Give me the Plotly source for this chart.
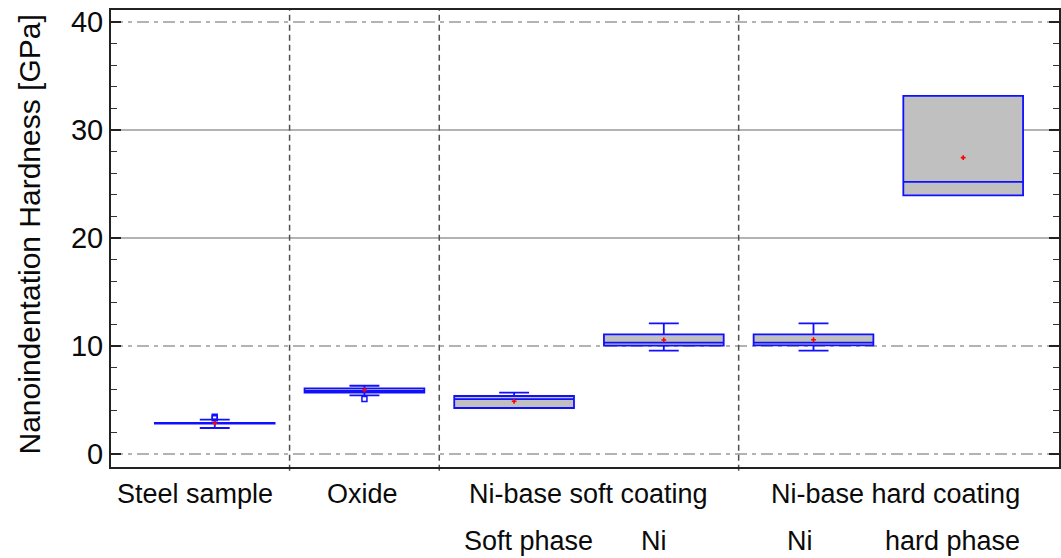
import plotly.graph_objects as go

# Nanoindentation hardness statistics (GPa) per measured phase
categories = ["Steel sample", "Oxide", "Soft phase", "Ni", "Ni", "hard phase"]
group_labels = ["Steel sample", "Oxide", "Ni-base soft coating", "Ni-base hard coating"]
sub_labels = ["Soft phase", "Ni", "Ni", "hard phase"]
y_title = "Nanoindentation Hardness [GPa]"

q1 = [2.82, 5.68, 4.26, 10.03, 10.06, 23.95]
median = [2.85, 5.85, 5.09, 10.31, 10.31, 25.19]
q3 = [2.88, 6.08, 5.37, 11.08, 11.08, 33.15]
lower_fence = [2.41, 5.43, 4.26, 9.57, 9.57, 23.95]
upper_fence = [3.18, 6.32, 5.68, 12.10, 12.10, 33.15]
mean = [2.85, 5.93, 4.88, 10.56, 10.58, 27.44]

outlier_cat = [0, 0, 1]
outlier_val = [3.32, 3.45, 5.09]

y_ticks = [0, 10, 20, 30, 40]
grid_dashed = [0, 10, 40]
grid_solid = [20, 30]

FONT = "Arial, Liberation Sans, sans-serif"
BLUE = "#1010ff"
TEXT = "#0a0a0a"
positions = list(range(len(categories)))

fig = go.Figure()

fig.add_trace(go.Box(
    x=positions, q1=q1, median=median, q3=q3,
    lowerfence=lower_fence, upperfence=upper_fence,
    width=0.8, whiskerwidth=0.25, boxpoints=False,
    fillcolor="#c0c0c0", line=dict(color=BLUE, width=1.8),
    showlegend=False, hoverinfo="skip",
))

fig.add_trace(go.Scatter(
    x=[positions[i] for i in outlier_cat], y=outlier_val, mode="markers",
    marker=dict(symbol="square-open", size=5, color=BLUE, line=dict(width=1.5, color=BLUE)),
    showlegend=False, hoverinfo="skip",
))

fig.add_trace(go.Scatter(
    x=positions, y=mean, mode="markers",
    marker=dict(symbol="cross", size=4, color="#ff0000"),
    showlegend=False, hoverinfo="skip",
))

shapes = []
for v in grid_dashed:
    shapes.append(dict(type="line", xref="paper", x0=0, x1=1, yref="y", y0=v, y1=v,
                       line=dict(color="#9a9a9a", width=1.5, dash="12px,5px,4px,5px"),
                       layer="below"))
for v in grid_solid:
    shapes.append(dict(type="line", xref="paper", x0=0, x1=1, yref="y", y0=v, y1=v,
                       line=dict(color="#9a9a9a", width=1.5), layer="below"))
# group separators between sample types
for sep in [0.5, 1.5, 3.5]:
    shapes.append(dict(type="line", xref="x", x0=sep, x1=sep, yref="paper", y0=-0.008, y1=1,
                       line=dict(color="#505050", width=1.5, dash="6px,4px"), layer="below"))

annotations = []
group_pos = [0, 1, 2.5, 4.5]
group_shift = [-20, -2, 0, 7]
for text, x, s in zip(group_labels, group_pos, group_shift):
    annotations.append(dict(text=text, x=x, xref="x", y=-0.059, yref="paper",
                            xshift=s, yanchor="middle", showarrow=False,
                            font=dict(family=FONT, size=27, color=TEXT)))
sub_pos = [2, 3, 4, 5]
sub_shift = [14, -10, -14, -11]
for text, x, s in zip(sub_labels, sub_pos, sub_shift):
    annotations.append(dict(text=text, x=x, xref="x", y=-0.162, yref="paper",
                            xshift=s, yanchor="middle", showarrow=False,
                            font=dict(family=FONT, size=27, color=TEXT)))
# vertical axis title
annotations.append(dict(text=y_title, textangle=-90, x=0, xref="paper", xshift=-82,
                        y=0.5, yref="paper", yshift=4, xanchor="center", yanchor="middle",
                        showarrow=False, font=dict(family=FONT, size=30, color=TEXT)))

fig.update_layout(
    width=1061, height=558,
    margin=dict(l=111, r=0, t=10, b=91),
    paper_bgcolor="white", plot_bgcolor="white",
    font=dict(family=FONT, size=28, color=TEXT),
    shapes=shapes, annotations=annotations,
    xaxis=dict(range=[-0.693, 5.64], showticklabels=False, ticks="", showgrid=False,
               zeroline=False, showline=True, linecolor="#222", linewidth=2, mirror=True),
    yaxis=dict(range=[-1.2, 41.1], tickvals=y_ticks, ticks="inside", ticklen=10,
               tickwidth=1.5, tickcolor="#222",
               minor=dict(dtick=2, ticks="inside", ticklen=6, tickwidth=1.2, tickcolor="#333"),
               showgrid=False, zeroline=False, showline=True, linecolor="#222",
               linewidth=2, mirror="allticks",
               tickfont=dict(family=FONT, size=29, color=TEXT)),
)

fig.write_html("out.html")
